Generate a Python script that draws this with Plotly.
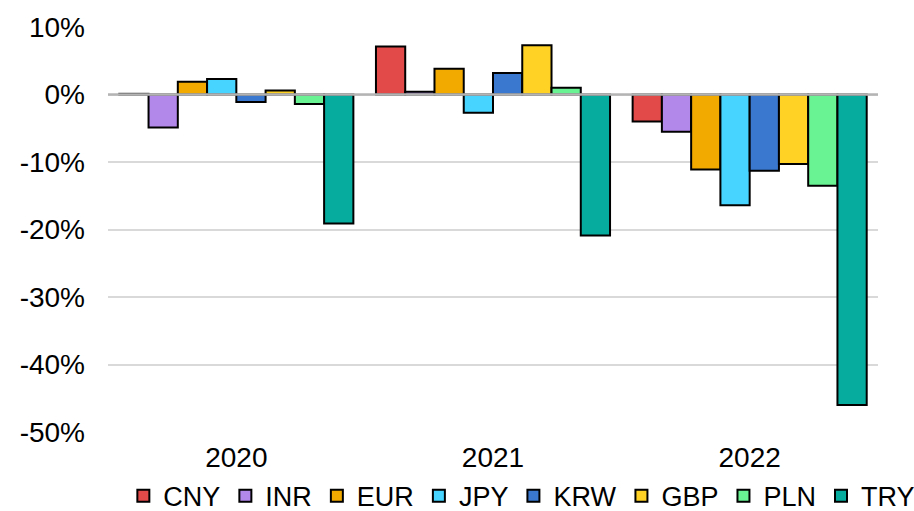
import plotly.graph_objects as go

# Annual change vs. USD, in percent
years = ["2020", "2021", "2022"]
currencies = ["CNY", "INR", "EUR", "JPY", "KRW", "GBP", "PLN", "TRY"]
colors = ["#E24A4A", "#B388EB", "#F2A900", "#47D4FF", "#3A78D0", "#FFD225", "#69F393", "#06AD9E"]

cny = [0.1, 7.1, -4.0]
inr = [-4.9, 0.4, -5.5]
eur = [1.9, 3.8, -11.1]
jpy = [2.3, -2.7, -16.4]
krw = [-1.1, 3.2, -11.3]
gbp = [0.6, 7.3, -10.3]
pln = [-1.4, 1.0, -13.5]
try_ = [-19.1, -20.9, -46.0]

series = [cny, inr, eur, jpy, krw, gbp, pln, try_]

tick_values = [10, 0, -10, -20, -30, -40, -50]
tick_labels = ["10%", "0%", "-10%", "-20%", "-30%", "-40%", "-50%"]

font = "Liberation Sans, Arial, sans-serif"

fig = go.Figure()
for name, vals, col in zip(currencies, series, colors):
    fig.add_trace(go.Bar(
        x=years, y=vals, name=name,
        marker=dict(color=col, line=dict(color="#000000", width=2)),
    ))

# zero baseline drawn over the bars
fig.add_shape(type="line", xref="paper", x0=0, x1=1, yref="y", y0=0, y1=0,
              line=dict(color="#B4B4B4", width=2.5), layer="above")

fig.update_layout(
    width=914, height=511,
    margin=dict(l=108, r=36, t=27, b=79, autoexpand=False),
    paper_bgcolor="white", plot_bgcolor="white",
    barmode="group", bargap=0.088, bargroupgap=0,
    font=dict(family=font, size=28, color="#000000"),
    showlegend=True,
    legend=dict(orientation="h", x=1.055, xanchor="right",
                y=-0.098, yanchor="top",
                font=dict(size=27), itemwidth=30, tracegroupgap=0,
                borderwidth=0, bgcolor="rgba(0,0,0,0)"),
    xaxis=dict(showgrid=False, showline=False, ticks="", ticklabelstandoff=6,
               tickfont=dict(size=28)),
    yaxis=dict(range=[-50, 10], tickvals=tick_values, ticktext=tick_labels,
               showgrid=True, gridcolor="#D9D9D9", gridwidth=2,
               zeroline=False, showline=False, ticks="", ticklabelstandoff=22,
               tickfont=dict(size=28)),
)

fig.write_html("out.html")
